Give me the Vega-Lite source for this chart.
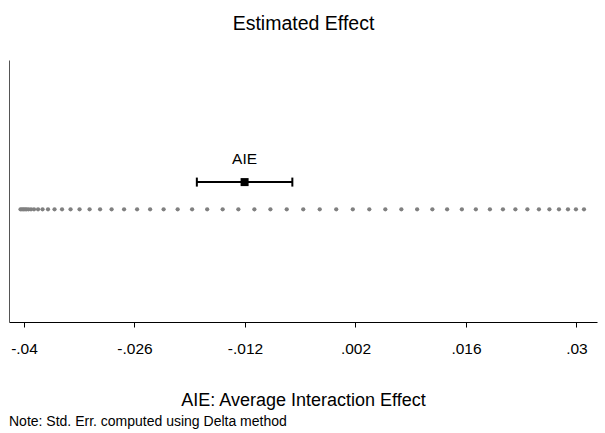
{
  "$schema": "https://vega.github.io/schema/vega-lite/v6.json",
  "width": 588,
  "height": 262,
  "autosize": {"type": "none"},
  "padding": {"left": 9, "top": 60, "right": 8, "bottom": 111},
  "background": "white",
  "title": {"text": "Note: Std. Err. computed using Delta method", "orient": "bottom", "anchor": "start", "frame": "group", "fontSize": 14, "fontWeight": "normal", "font": "Liberation Sans", "color": "#000", "offset": 5},
  "config": {"view": {"stroke": null}, "font": "Liberation Sans"},
  "resolve": {"axis": {"x": "independent"}},
  "datasets": {
    "dots": [
      {"v": -0.04044, "y": 0.43}, {"v": -0.04025, "y": 0.43}, {"v": -0.04006, "y": 0.43}, {"v": -0.03987, "y": 0.43},
      {"v": -0.03968, "y": 0.43}, {"v": -0.03943, "y": 0.43}, {"v": -0.03911, "y": 0.43}, {"v": -0.03873, "y": 0.43},
      {"v": -0.03822, "y": 0.43}, {"v": -0.03765, "y": 0.43}, {"v": -0.03696, "y": 0.43}, {"v": -0.03613, "y": 0.43},
      {"v": -0.03518, "y": 0.43}, {"v": -0.0341, "y": 0.43}, {"v": -0.03296, "y": 0.43}, {"v": -0.03169, "y": 0.43},
      {"v": -0.03036, "y": 0.43}, {"v": -0.0289, "y": 0.43}, {"v": -0.02732, "y": 0.43}, {"v": -0.02567, "y": 0.43},
      {"v": -0.02402, "y": 0.43}, {"v": -0.02231, "y": 0.43}, {"v": -0.02053, "y": 0.43}, {"v": -0.0187, "y": 0.43},
      {"v": -0.01679, "y": 0.43}, {"v": -0.01483, "y": 0.43}, {"v": -0.01284, "y": 0.43}, {"v": -0.01081, "y": 0.43},
      {"v": -0.00878, "y": 0.43}, {"v": -0.00671, "y": 0.43}, {"v": -0.00462, "y": 0.43}, {"v": -0.00253, "y": 0.43},
      {"v": -0.00044, "y": 0.43}, {"v": 0.00166, "y": 0.43}, {"v": 0.00375, "y": 0.43}, {"v": 0.00578, "y": 0.43},
      {"v": 0.00781, "y": 0.43}, {"v": 0.00981, "y": 0.43}, {"v": 0.01174, "y": 0.43}, {"v": 0.01361, "y": 0.43},
      {"v": 0.01548, "y": 0.43}, {"v": 0.01725, "y": 0.43}, {"v": 0.01903, "y": 0.43}, {"v": 0.02068, "y": 0.43},
      {"v": 0.02226, "y": 0.43}, {"v": 0.02378, "y": 0.43}, {"v": 0.02524, "y": 0.43}, {"v": 0.02657, "y": 0.43},
      {"v": 0.02778, "y": 0.43}, {"v": 0.02892, "y": 0.43}, {"v": 0.02993, "y": 0.43}, {"v": 0.03095, "y": 0.43}
    ],
    "aie": [
      {"label": "AIE", "est": -0.01205, "lo": -0.0181, "hi": -0.006, "y": 0.534}
    ]
  },
  "layer": [
    {
      "data": {"name": "dots"},
      "mark": {"type": "circle", "size": 18, "color": "#808080", "opacity": 1},
      "encoding": {
        "x": {
          "field": "v", "type": "quantitative",
          "scale": {"domain": [-0.0419, 0.0326], "nice": false, "zero": false},
          "axis": {
            "orient": "bottom",
            "values": [-0.04, -0.026, -0.012, 0.002, 0.016, 0.03],
            "labelExpr": "(datum.value < 0 ? '-' : '') + replace(format(abs(datum.value), '.3~f'), '0.', '.')",
            "grid": false, "domainColor": "#000", "domainWidth": 1, "tickColor": "#000", "tickSize": 5,
            "labelFontSize": 15.5, "labelColor": "#000", "labelPadding": 14, "labelFont": "Liberation Sans",
            "title": "AIE: Average Interaction Effect", "titleFontSize": 18, "titleFontWeight": "normal",
            "titleColor": "#000", "titlePadding": 35, "titleFont": "Liberation Sans"
          }
        },
        "y": {
          "field": "y", "type": "quantitative",
          "scale": {"domain": [0, 1], "nice": false, "zero": false},
          "axis": {"title": null, "labels": false, "ticks": false, "grid": false, "domainColor": "#555", "domainWidth": 1}
        }
      }
    },
    {
      "data": {"name": "aie"},
      "mark": {"type": "rule", "strokeWidth": 2, "color": "#000"},
      "encoding": {
        "x": {"field": "lo", "type": "quantitative", "axis": null},
        "x2": {"field": "hi"},
        "y": {"field": "y", "type": "quantitative"}
      }
    },
    {
      "data": {"name": "aie"},
      "mark": {"type": "tick", "orient": "vertical", "size": 9, "thickness": 2, "color": "#000", "opacity": 1},
      "encoding": {
        "x": {"field": "lo", "type": "quantitative", "axis": null},
        "y": {"field": "y", "type": "quantitative"}
      }
    },
    {
      "data": {"name": "aie"},
      "mark": {"type": "tick", "orient": "vertical", "size": 9, "thickness": 2, "color": "#000", "opacity": 1},
      "encoding": {
        "x": {"field": "hi", "type": "quantitative", "axis": null},
        "y": {"field": "y", "type": "quantitative"}
      }
    },
    {
      "data": {"name": "aie"},
      "mark": {"type": "square", "size": 64, "filled": true, "color": "#000", "opacity": 1},
      "encoding": {
        "x": {"field": "est", "type": "quantitative", "axis": null},
        "y": {"field": "y", "type": "quantitative"}
      }
    },
    {
      "data": {"name": "aie"},
      "mark": {"type": "text", "dy": -23, "fontSize": 15.5, "font": "Liberation Sans", "color": "#000"},
      "encoding": {
        "x": {
          "field": "est", "type": "quantitative",
          "axis": {"orient": "top", "domain": false, "ticks": false, "labels": false, "grid": false,
                   "title": "Estimated Effect", "titleFontSize": 19.5, "titleFontWeight": "normal",
                   "titleColor": "#000", "titlePadding": 27, "titleFont": "Liberation Sans"}
        },
        "y": {"field": "y", "type": "quantitative"},
        "text": {"field": "label"}
      }
    }
  ]
}
